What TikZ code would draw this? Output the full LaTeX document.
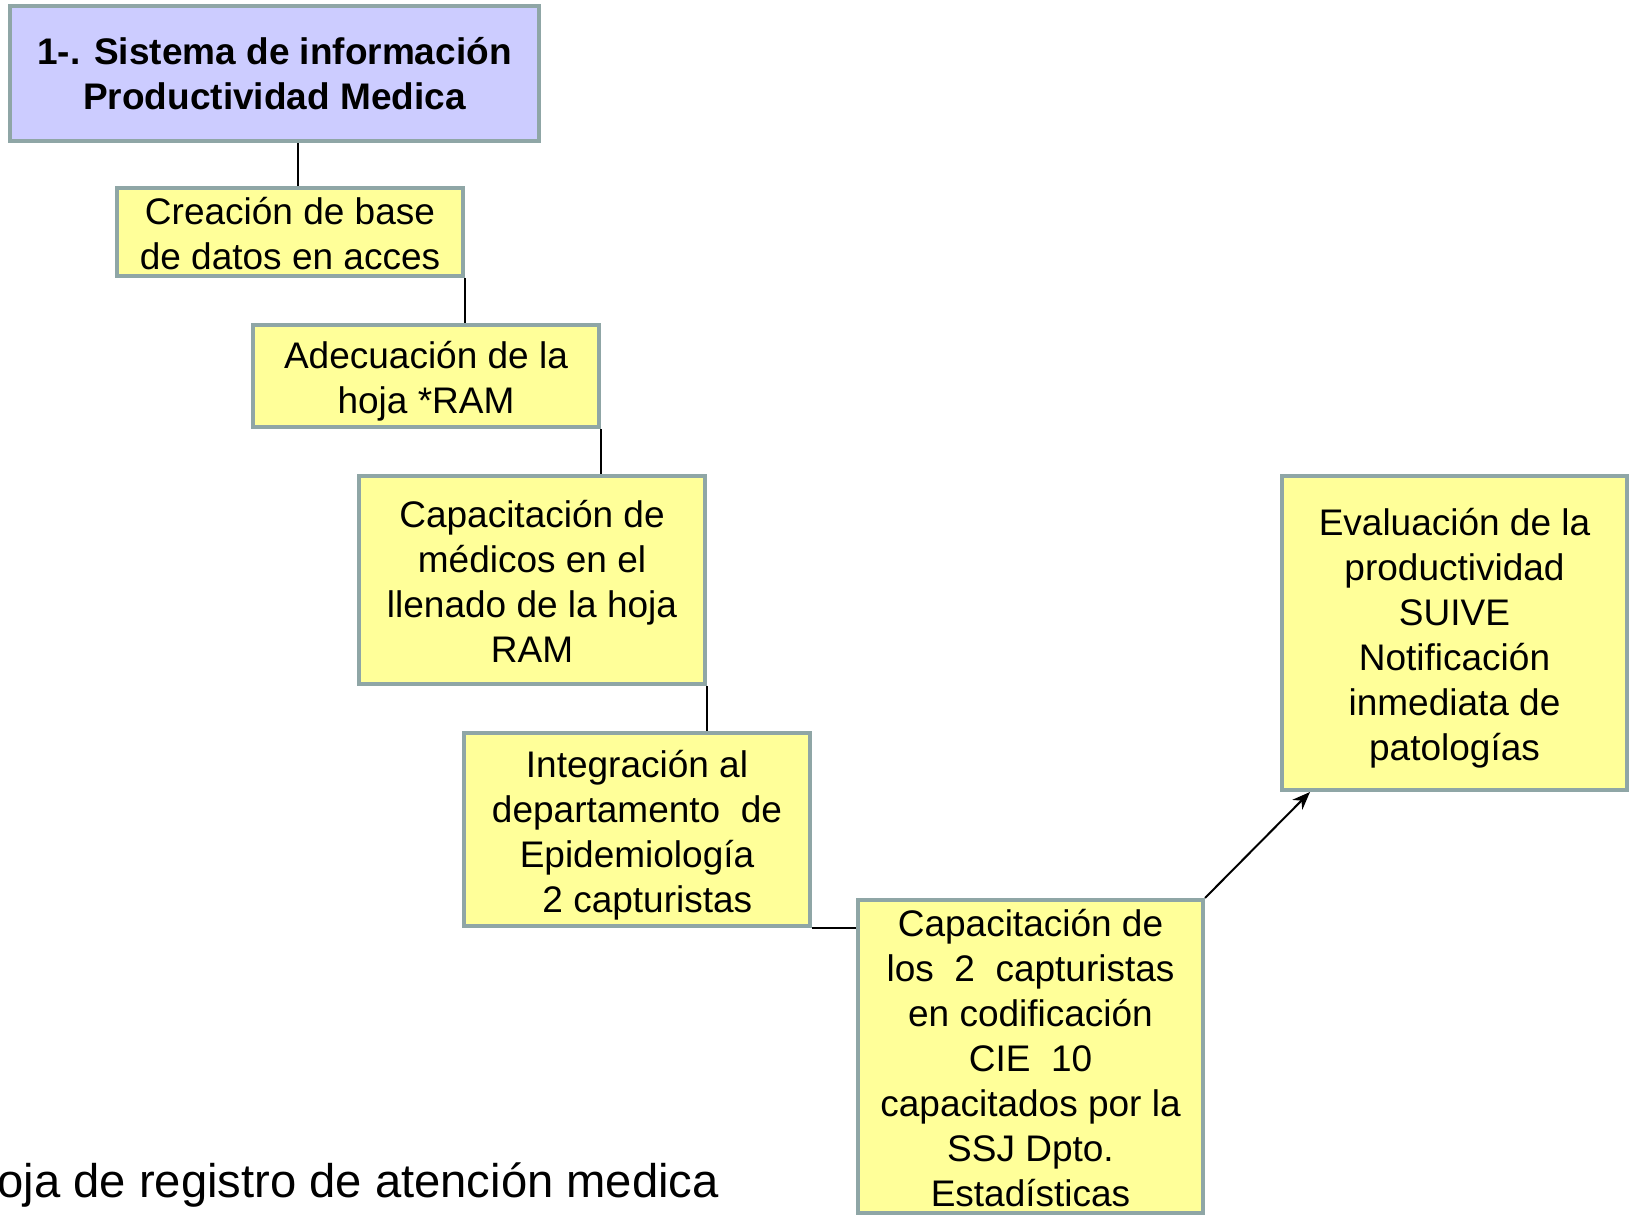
\documentclass[tikz,border=0pt]{standalone}
\usepackage{fontspec}
\setmainfont{Liberation Sans}
\usetikzlibrary{arrows.meta}
\definecolor{boxline}{RGB}{143,166,166}
\definecolor{boxfill}{RGB}{255,255,153}
\definecolor{headfill}{RGB}{204,204,255}
\newcommand\firstln{\rule{0pt}{15.5pt}}

\begin{document}
\begin{tikzpicture}[x=0.5pt, y=-0.5pt,
    stage/.style={rectangle, draw=boxline, line width=2pt, fill=boxfill,
      minimum width=173pt, align=center, inner sep=0pt,
      font=\fontsize{18.5}{22.5}\selectfont},
    head/.style={stage, fill=headfill, minimum width=264.5pt,
      minimum height=67.5pt, font=\fontsize{18.5}{22.5}\selectfont\bfseries},
    link/.style={line width=1pt},
    >={Stealth[length=9pt,width=7pt]}]
    \useasboundingbox (0,0) rectangle (1633,1218);
    \node[head] (S) at (274.5,73.5) {1-. Sistema de información\\Productividad Medica};
    \node[stage,minimum height=44pt] (A) at (290,232) {\firstln Creación de base\\de datos en acces};
    \node[stage,minimum height=51pt] (B) at (426,376) {\firstln Adecuación de la\\\smash{hoja *RAM}};
    \node[stage,minimum height=104pt] (C) at (532,580) {\firstln Capacitación de\\médicos en el\\llenado de la hoja\\RAM};
    \node[stage,minimum height=96.5pt] (D) at (637,829.5) {\firstln Integración al\\departamento\ \ de\\Epidemiología\\\smash{\hspace*{0.56em}2 capturistas}};
    \node[stage,minimum width=172.5pt,minimum height=156.5pt] (E) at (1030.5,1056.5)
      {\firstln Capacitación de\\los\ \ 2\ \ capturistas\\en codificación\\CIE\ \ 10\\capacitados por la\\SSJ Dpto.\\Estadísticas};
    \node[stage,minimum width=172.5pt,minimum height=157pt] (F) at (1454.5,633)
      {\firstln Evaluación de la\\productividad\\SUIVE\\Notificación\\inmediata de\\\smash{patologías}};
    \node[anchor=base west,inner sep=0pt,font=\fontsize{23.6}{28}\selectfont] (N) at (-3,1197)
      {oja de registro de atención medica};
    \draw[link] ([xshift=4pt]A.north) -- ([xshift=4pt]A.north |- S.south);
    \draw[link] (A.south east) -- (A.south east |- B.north);
    \draw[link] (B.south east) -- (B.south east |- C.north);
    \draw[link] (C.south east) -- (C.south east |- D.north);
    \draw[link] (D.south east) -- (D.south east -| E.west);
    \draw[link,->] (E.north east) -- ([xshift=15pt]F.south west);
\end{tikzpicture}
\end{document}
